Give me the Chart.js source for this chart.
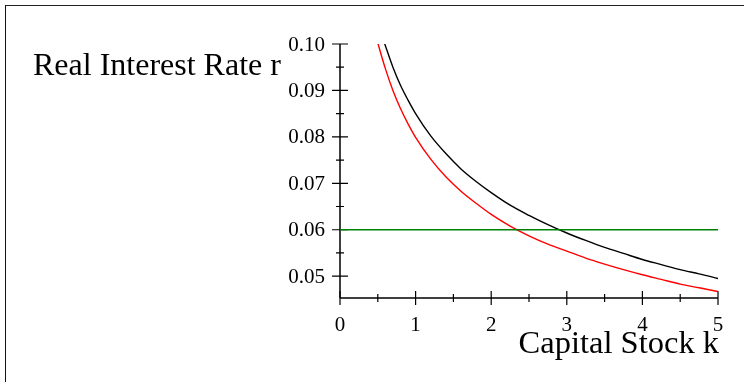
<!DOCTYPE html>
<html>
<head>
<meta charset="utf-8">
<script src="https://cdn.jsdelivr.net/npm/chart.js@4/dist/chart.umd.min.js"></script>
<style>
  html, body { margin: 0; padding: 0; background: #fff; }
  #wrap { position: relative; width: 744px; height: 382px; overflow: hidden; }
  #frame { position: absolute; left: 5px; top: 5px; width: 760px; height: 400px;
           border-left: 1.5px solid #111; border-top: 1px solid #222; box-sizing: border-box; }
  canvas { position: absolute; left: 0; top: 0; }
</style>
</head>
<body>
<div id="wrap">
  <div id="frame"></div>
  <canvas id="c" width="744" height="382"></canvas>
</div>
<script>
// ---- data ----
const kBlack = [0.59, 0.7, 0.8, 0.9, 1.0, 1.2, 1.4, 1.6, 1.8, 2.0, 2.25, 2.5, 2.75, 3.0, 3.25, 3.5, 3.75, 4.0, 4.25, 4.5, 4.75, 5.0];
const rBlack = [0.1001, 0.0950, 0.0911, 0.0879, 0.0850, 0.0802, 0.0764, 0.0731, 0.0704, 0.0680, 0.0653, 0.0631, 0.0611, 0.0593, 0.0577, 0.0562, 0.0549, 0.0536, 0.0525, 0.0514, 0.0505, 0.0495];
const kRed = [0.5, 0.6, 0.7, 0.8, 0.9, 1.0, 1.2, 1.4, 1.6, 1.8, 2.0, 2.25, 2.5, 2.75, 3.0, 3.25, 3.5, 3.75, 4.0, 4.25, 4.5, 4.75, 5.0];
const rRed = [0.1002, 0.0947, 0.0900, 0.0861, 0.0828, 0.0799, 0.0752, 0.0714, 0.0683, 0.0657, 0.0633, 0.0608, 0.0587, 0.0569, 0.0554, 0.0539, 0.0526, 0.0514, 0.0503, 0.0493, 0.0483, 0.0475, 0.0467];
const kGreen = [0, 5];
const rGreen = [0.06, 0.06];

const xTickValues = [0, 1, 2, 3, 4, 5];
const xTickLabels = ['0', '1', '2', '3', '4', '5'];
const xMinorValues = [0.5, 1.5, 2.5, 3.5, 4.5];
const yTickValues = [0.05, 0.06, 0.07, 0.08, 0.09, 0.10];
const yTickLabels = ['0.05', '0.06', '0.07', '0.08', '0.09', '0.10'];
const yMinorValues = [0.055, 0.065, 0.075, 0.085, 0.095];
const xTitle = 'Capital Stock k';
const yTitle = 'Real Interest Rate r';
const xMin = 0, xMax = 5, yMin = 0.0453, yMax = 0.10;

const FONT = '"Liberation Serif", "Times New Roman", serif';
const toPts = (ks, rs) => ks.map((k, i) => ({ x: k, y: rs[i] }));

const axesPlugin = {
  id: 'mapleAxes',
  beforeDatasetsDraw(chart) {
    const { ctx, scales: { x, y } } = chart;
    const yb = y.getPixelForValue(yMin);
    const x0 = x.getPixelForValue(xMin);
    ctx.save();
    ctx.strokeStyle = '#000';
    ctx.lineWidth = 1.5;
    ctx.beginPath();
    ctx.moveTo(x0, yb); ctx.lineTo(x.getPixelForValue(xMax), yb);
    ctx.moveTo(x0, y.getPixelForValue(yMax)); ctx.lineTo(x0, yb);
    ctx.stroke();
    ctx.lineWidth = 1.2;
    ctx.beginPath();
    xTickValues.forEach(v => { const p = x.getPixelForValue(v); ctx.moveTo(p, yb - 7); ctx.lineTo(p, yb + 7); });
    xMinorValues.forEach(v => { const p = x.getPixelForValue(v); ctx.moveTo(p, yb - 4); ctx.lineTo(p, yb + 4); });
    yTickValues.forEach(v => { const p = y.getPixelForValue(v); ctx.moveTo(x0 - 8, p); ctx.lineTo(x0 + 8, p); });
    yMinorValues.forEach(v => { const p = y.getPixelForValue(v); ctx.moveTo(x0 - 4, p); ctx.lineTo(x0 + 4, p); });
    ctx.stroke();

    ctx.fillStyle = '#000';
    ctx.font = '21px ' + FONT;
    ctx.textAlign = 'center';
    ctx.textBaseline = 'alphabetic';
    xTickValues.forEach((v, i) => ctx.fillText(xTickLabels[i], x.getPixelForValue(v), 331));
    ctx.textAlign = 'right';
    ctx.textBaseline = 'middle';
    yTickValues.forEach((v, i) => ctx.fillText(yTickLabels[i], 325, y.getPixelForValue(v) + 1));
    ctx.restore();
  },
  afterDraw(chart) {
    const { ctx } = chart;
    ctx.save();
    ctx.fillStyle = '#000';
    ctx.textBaseline = 'alphabetic';
    ctx.font = '32px ' + FONT;
    ctx.textAlign = 'left';
    ctx.fillText(yTitle, 33, 75);
    ctx.font = '32.5px ' + FONT;
    ctx.textAlign = 'right';
    ctx.fillText(xTitle, 719, 353);
    ctx.restore();
  }
};

new Chart(document.getElementById('c'), {
  type: 'line',
  data: {
    datasets: [
      { data: toPts(kGreen, rGreen), borderColor: '#008000', borderWidth: 1.5, pointRadius: 0, tension: 0 },
      { data: toPts(kRed, rRed), borderColor: '#ff0000', borderWidth: 1.4, pointRadius: 0, cubicInterpolationMode: 'monotone' },
      { data: toPts(kBlack, rBlack), borderColor: '#000000', borderWidth: 1.4, pointRadius: 0, cubicInterpolationMode: 'monotone' }
    ]
  },
  options: {
    responsive: false,
    animation: false,
    events: [],
    layout: { padding: { left: 340, right: 26, top: 44, bottom: 84 } },
    plugins: { legend: { display: false }, tooltip: { enabled: false }, title: { display: false } },
    scales: {
      x: { type: 'linear', min: xMin, max: xMax, display: false },
      y: { type: 'linear', min: yMin, max: yMax, display: false }
    }
  },
  plugins: [axesPlugin]
});
</script>
</body>
</html>
